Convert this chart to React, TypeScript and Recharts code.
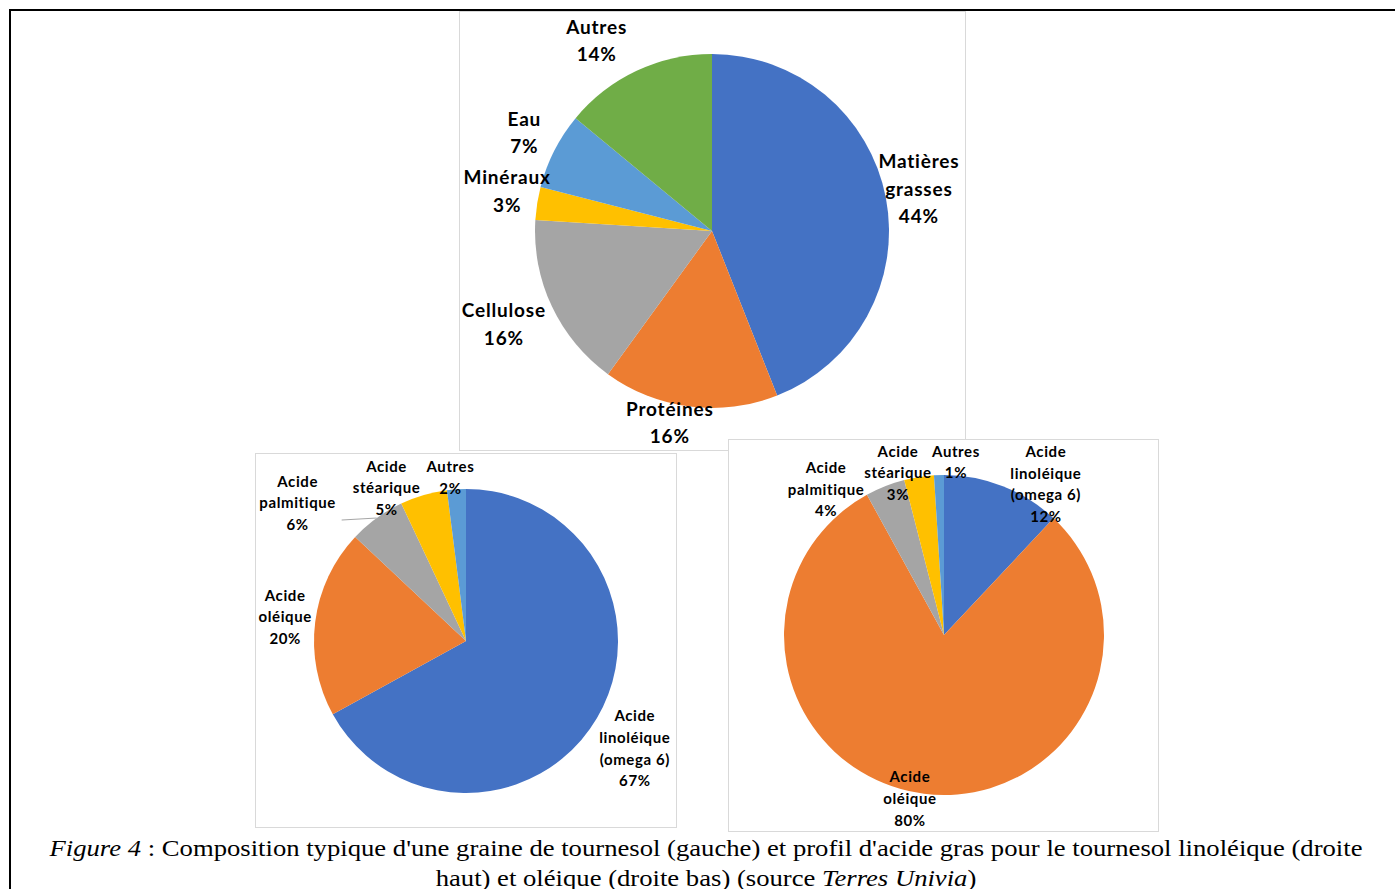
import React from 'react';
import { PieChart, Pie, Cell } from 'recharts';

// ---------- Data ----------
const seedCategories = ['Matières\ngrasses', 'Protéines', 'Cellulose', 'Minéraux', 'Eau', 'Autres'];
const seedValues = [44, 16, 16, 3, 7, 14];

const fattyCategories = ['Acide\nlinoléique\n(omega 6)', 'Acide\noléique', 'Acide\npalmitique', 'Acide\nstéarique', 'Autres'];
const linoleicValues = [67, 20, 6, 5, 2];
const oleicValues = [12, 80, 4, 3, 1];

const captionLine1Italic = 'Figure 4';
const captionLine1 = " : Composition typique d'une graine de tournesol (gauche) et profil d'acide gras pour le tournesol linoléique (droite";
const captionLine2 = 'haut) et oléique (droite bas) (source ';
const captionLine2Italic = 'Terres Univia';
const captionLine2End = ')';

// ---------- Styles / layout ----------
const seedColors = ['#4472C4', '#ED7D31', '#A5A5A5', '#FFC000', '#5B9BD5', '#70AD47'];
const fattyColors = ['#4472C4', '#ED7D31', '#A5A5A5', '#FFC000', '#5B9BD5'];

// label offsets from the slice's outer mid-point (dx, dy)
const seedLabelOffsets = [[33, -9], [-20, 16], [-48, 18], [-30, -12], [-30, -18], [-40, -30]];
const linoleicLabelOffsets = [[38, 30], [-30, -5], [-79, -15], [-37, -7], [-6, -12]];
const oleicLabelOffsets = [[43, -2], [-14, 5], [-59, 3], [-21, -4], [17, -13]];

const RADIAN = Math.PI / 180;
const LABEL_FONT = 'Lato, "Noto Sans", sans-serif';

type LabelCfg = {
  offsets: number[][];
  fontSize: number;
  lineHeight: number;
  letterSpacing: number;
  leader?: { index: number; dx: number; dy: number };
};

const makeLabel = (cfg: LabelCfg) => (props: any) => {
  const { cx, cy, midAngle, outerRadius, index, name, value } = props;
  const ex = cx + outerRadius * Math.cos(-midAngle * RADIAN);
  const ey = cy + outerRadius * Math.sin(-midAngle * RADIAN);
  const off = cfg.offsets[index] || [0, 0];
  const tx = ex + off[0];
  const ty = ey + off[1];
  const lines = String(name).split('\n').concat([`${value}%`]);
  const n = lines.length;
  const firstY = ty - ((n - 1) * cfg.lineHeight) / 2 + cfg.fontSize * 0.36;
  return (
    <g key={`lbl-${index}`}>
      {cfg.leader && cfg.leader.index === index ? (
        <line x1={ex} y1={ey} x2={ex + cfg.leader.dx} y2={ey + cfg.leader.dy} stroke="#A6A6A6" strokeWidth={1} />
      ) : null}
      <text
        x={tx}
        y={firstY}
        textAnchor="middle"
        fill="#000"
        fontFamily={LABEL_FONT}
        fontWeight={700}
        fontSize={cfg.fontSize}
        letterSpacing={cfg.letterSpacing}
      >
        {lines.map((l, i) => (
          <tspan key={i} x={tx} y={firstY + i * cfg.lineHeight}>
            {l}
          </tspan>
        ))}
      </text>
    </g>
  );
};

const seedData = seedCategories.map((name, i) => ({ name, value: seedValues[i] }));
const linoleicData = fattyCategories.map((name, i) => ({ name, value: linoleicValues[i] }));
const oleicData = fattyCategories.map((name, i) => ({ name, value: oleicValues[i] }));

const boxStyle = (left: number, top: number, width: number, height: number): React.CSSProperties => ({
  position: 'absolute',
  left,
  top,
  width,
  height,
  boxSizing: 'border-box',
  border: '1px solid #D9D9D9',
  background: '#fff',
});

type PieBoxProps = {
  left: number;
  top: number;
  width: number;
  height: number;
  data: { name: string; value: number }[];
  colors: string[];
  cx: number;
  cy: number;
  r: number;
  label: LabelCfg;
};

const PieBox = ({ left, top, width, height, data, colors, cx, cy, r, label }: PieBoxProps) => (
  <>
    <div style={boxStyle(left, top, width, height)} />
    <div style={{ position: 'absolute', left, top, width, height }}>
      <PieChart width={width} height={height} margin={{ top: 0, right: 0, bottom: 0, left: 0 }}>
        <Pie
          data={data}
          dataKey="value"
          nameKey="name"
          cx={cx - left}
          cy={cy - top}
          outerRadius={r}
          startAngle={90}
          endAngle={-270}
          stroke="none"
          isAnimationActive={false}
          labelLine={false}
          label={makeLabel(label)}
        >
          {data.map((d, i) => (
            <Cell key={d.name + i} fill={colors[i]} stroke="none" />
          ))}
        </Pie>
      </PieChart>
    </div>
  </>
);

export default function App() {
  return (
    <div style={{ position: 'absolute', left: 0, top: 0, width: 1395, height: 889, background: '#fff', overflow: 'hidden' }}>
      {/* outer frame (top & left visible) */}
      <div
        style={{
          position: 'absolute',
          left: 9,
          top: 9,
          width: 1400,
          height: 900,
          borderTop: '2px solid #000',
          borderLeft: '2px solid #000',
          boxSizing: 'border-box',
        }}
      />
      <PieBox
        left={459}
        top={11}
        width={507}
        height={440}
        data={seedData}
        colors={seedColors}
        cx={712}
        cy={231}
        r={177}
        label={{ offsets: seedLabelOffsets, fontSize: 19, lineHeight: 27.5, letterSpacing: 0.8 }}
      />
      <PieBox
        left={255}
        top={453}
        width={422}
        height={375}
        data={linoleicData}
        colors={fattyColors}
        cx={466}
        cy={641}
        r={152}
        label={{
          offsets: linoleicLabelOffsets,
          fontSize: 15,
          lineHeight: 21.7,
          letterSpacing: 0.6,
          leader: { index: 2, dx: -35, dy: 2 },
        }}
      />
      <PieBox
        left={728}
        top={439}
        width={431}
        height={393}
        data={oleicData}
        colors={fattyColors}
        cx={944}
        cy={635}
        r={160}
        label={{ offsets: oleicLabelOffsets, fontSize: 15, lineHeight: 21.7, letterSpacing: 0.6 }}
      />
      <div
        style={{
          position: 'absolute',
          left: 30,
          top: 834,
          width: 1352,
          textAlign: 'center',
          fontFamily: '"Liberation Serif", "Times New Roman", serif',
          fontSize: 23,
          lineHeight: '30px',
          color: '#000',
          whiteSpace: 'nowrap',
          transform: 'scaleX(1.159)',
          transformOrigin: 'center top',
        }}
      >
        <i>{captionLine1Italic}</i>
        {captionLine1}
        <br />
        {captionLine2}
        <i>{captionLine2Italic}</i>
        {captionLine2End}
      </div>
    </div>
  );
}
